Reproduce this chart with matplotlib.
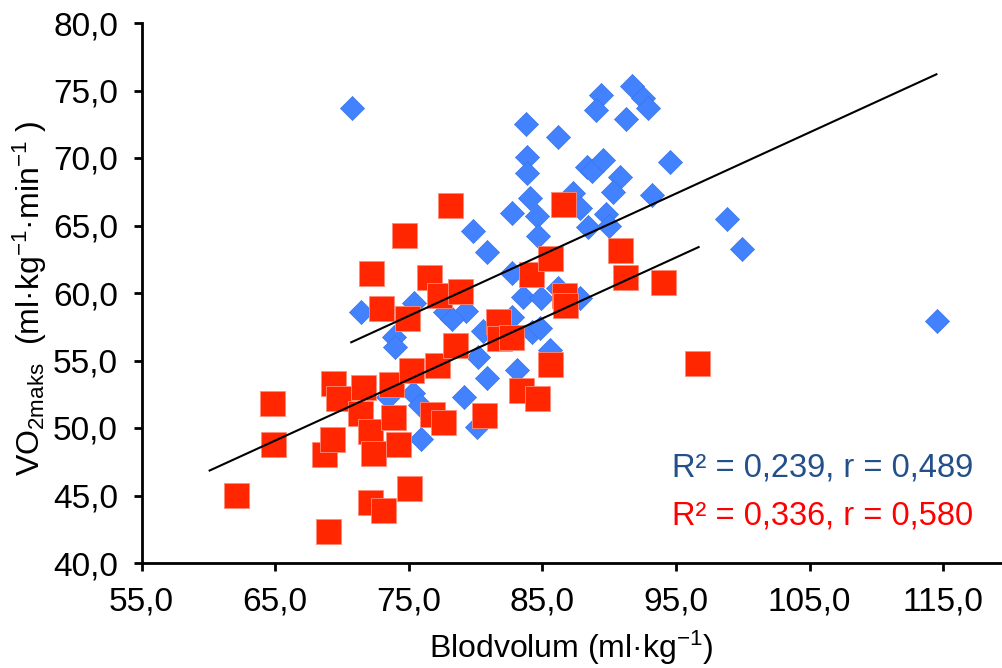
import matplotlib
matplotlib.use('Agg')
import matplotlib.pyplot as plt

plt.rcParams['font.family'] = ['Liberation Sans', 'DejaVu Sans']
plt.rcParams['mathtext.fontset'] = 'custom'
plt.rcParams['mathtext.rm'] = 'Liberation Sans'
plt.rcParams['mathtext.it'] = 'Liberation Sans'

# ---- data ----
blue_x = [70.72, 71.41, 75.40, 73.90, 73.94, 73.47, 75.34, 75.85, 75.92, 79.14,
          80.09, 77.72, 79.27, 78.22, 79.79, 80.84, 80.58, 80.21, 80.84, 83.08,
          82.71, 82.71, 83.58, 84.87, 86.14, 87.82, 84.21, 84.83, 85.58, 83.78,
          86.15, 83.89, 83.85, 84.08, 82.71, 84.58, 84.70, 87.32, 87.82, 88.44,
          89.77, 89.99, 88.35, 88.72, 89.57, 90.85, 90.31, 93.19, 94.56, 89.39,
          91.73, 92.52, 92.93, 88.99, 91.23, 98.83, 99.93, 114.52]
blue_y = [73.68, 58.57, 59.28, 56.76, 56.02, 52.32, 52.57, 51.70, 49.19, 52.32,
          50.10, 58.61, 58.67, 58.05, 64.56, 63.04, 57.22, 55.28, 53.70, 54.30,
          58.24, 61.46, 59.73, 59.61, 60.35, 59.61, 57.13, 57.39, 55.78, 72.50,
          71.58, 70.07, 68.89, 67.01, 65.90, 65.70, 64.21, 67.44, 66.27, 64.91,
          65.85, 65.00, 69.36, 69.04, 69.85, 68.61, 67.50, 67.26, 69.68, 74.67,
          75.30, 74.42, 73.68, 73.56, 72.87, 65.46, 63.24, 57.95]

red_x = [62.10, 64.75, 64.88, 68.96, 68.64, 69.31, 69.26, 69.71, 71.56, 71.36,
         72.16, 72.10, 72.07, 72.31, 73.11, 72.93, 73.65, 73.80, 74.18, 74.63,
         75.00, 74.85, 75.15, 76.50, 76.77, 77.10, 77.55, 78.07, 77.27, 78.84,
         78.44, 80.64, 81.68, 81.76, 82.62, 83.38, 84.12, 84.64, 85.58, 85.58,
         86.55, 86.62, 86.70, 90.82, 91.19, 94.01, 96.56]
red_y = [45.06, 51.87, 48.84, 42.39, 48.04, 53.36, 49.15, 52.20, 53.04, 51.09,
         61.50, 49.78, 44.54, 48.17, 43.93, 58.91, 53.26, 50.84, 48.79, 64.32,
         45.59, 58.17, 54.26, 61.16, 51.01, 54.67, 50.47, 66.54, 59.85, 60.17,
         56.15, 50.96, 57.95, 56.70, 56.76, 52.78, 61.41, 52.20, 62.59, 54.72,
         66.61, 59.85, 59.11, 63.19, 61.15, 60.78, 54.84]

blue_trend_x = [70.7, 114.5]
blue_trend_y = [56.35, 76.2]
red_trend_x = [60.1, 96.7]
red_trend_y = [46.85, 63.4]

x_ticks = [55, 65, 75, 85, 95, 105, 115]
y_ticks = [40, 45, 50, 55, 60, 65, 70, 75, 80]
x_tick_labels = ['55,0', '65,0', '75,0', '85,0', '95,0', '105,0', '115,0']
y_tick_labels = ['40,0', '45,0', '50,0', '55,0', '60,0', '65,0', '70,0', '75,0', '80,0']

blue_text = 'R² = 0,239, r = 0,489'
red_text = 'R² = 0,336, r = 0,580'

# ---- figure ----
W, H = 1002, 668
fig = plt.figure(figsize=(W / 100, H / 100), dpi=100)
ax_left, ax_bottom, ax_w, ax_h = 141.5, 105, 860.5, 540
ax = fig.add_axes([ax_left / W, ax_bottom / H, ax_w / W, ax_h / H])
ax.set_xlim(55, 55 + ax_w / 13.36)
ax.set_ylim(40, 80)

ax.scatter(blue_x, blue_y, marker='D', s=150, c='#4282FF',
           edgecolors='#3B73E6', linewidths=0.5, zorder=2)
ax.scatter(red_x, red_y, marker='s', s=324, c='#FF2600',
           edgecolors='#FF8C78', linewidths=0.6, zorder=3)
ax.plot(blue_trend_x, blue_trend_y, color='black', lw=1.5, zorder=4)
ax.plot(red_trend_x, red_trend_y, color='black', lw=1.5, zorder=4)

for s in ['top', 'right']:
    ax.spines[s].set_visible(False)
for s in ['left', 'bottom']:
    ax.spines[s].set_linewidth(2.0)
    ax.spines[s].set_color('black')

ax.set_xticks(x_ticks)
ax.set_xticklabels(x_tick_labels)
ax.set_yticks(y_ticks)
ax.set_yticklabels(y_tick_labels)
ax.tick_params(axis='both', direction='out', length=6, width=2.0,
               labelsize=24, colors='black')
ax.tick_params(axis='x', pad=11)
ax.tick_params(axis='y', pad=11)

ax.set_xlabel('Blodvolum (ml·kg$^{\\mathregular{-1}}$)', fontsize=23, labelpad=8)
fig.text(30 / W, 1 - 298 / H,
         'VO$_{\\mathregular{2maks}}$  (ml·kg$^{\\mathregular{-1}}$·min$^{\\mathregular{-1}}$ )',
         rotation=90, ha='center', va='center', fontsize=23)

ax.text((672 - ax_left) / ax_w, (563 - 468) / ax_h, blue_text, transform=ax.transAxes,
        color='#24508A', fontsize=23.5, ha='left', va='center')
ax.text((672 - ax_left) / ax_w, (563 - 516) / ax_h, red_text, transform=ax.transAxes,
        color='#FF0000', fontsize=23.5, ha='left', va='center')

fig.savefig('out.png', dpi=100)
